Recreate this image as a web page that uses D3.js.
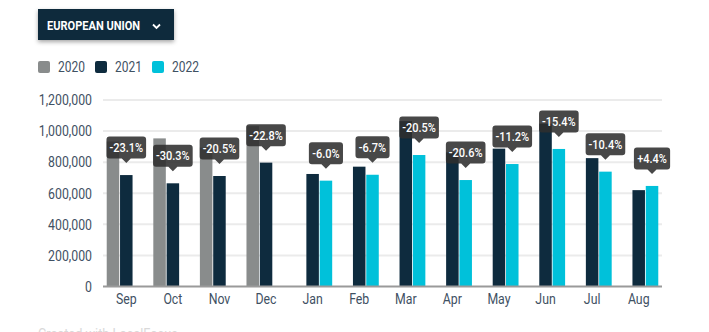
<!DOCTYPE html>
<html><head><meta charset="utf-8">
<script src="https://cdn.jsdelivr.net/npm/d3@7"></script>
<style>
html,body{margin:0;padding:0;background:#fff;overflow:hidden}
svg{display:block;font-family:Roboto,"Noto Sans",sans-serif}
</style></head>
<body>
<script>
const months = ['Sep','Oct','Nov','Dec','Jan','Feb','Mar','Apr','May','Jun','Jul','Aug'];
const seriesNames = ['2020','2021','2022'];
const v2020 = [933000, 953000, 894000, 1032000, null, null, null, null, null, null, null, null];
const v2021 = [717000, 664000, 711000, 797000, 724000, 771000, 1064000, 863000, 887000, 1048000, 826000, 620000];
const v2022 = [null, null, null, null, 681000, 719000, 846000, 685000, 788000, 885000, 739000, 647000];
const changes = ['-23.1%','-30.3%','-20.5%','-22.8%','-6.0%','-6.7%','-20.5%','-20.6%','-11.2%','-15.4%','-10.4%','+4.4%'];
const yTicks = [0, 200000, 400000, 600000, 800000, 1000000, 1200000];
const colors = {'2020':'#898c8c','2021':'#0e2b3e','2022':'#00c1da'};

const W = 709, H = 332;
const svg = d3.select('body').append('svg').attr('width', W).attr('height', H);
const textColor = '#3f5163';

function condense(sel, f){
  sel.each(function(){
    const w = this.getComputedTextLength();
    this.setAttribute('textLength', (w*f).toFixed(2));
    this.setAttribute('lengthAdjust','spacingAndGlyphs');
  });
}

// dropdown
const dd = svg.append('g').style('filter','drop-shadow(0px 2px 2px rgba(0,0,0,0.35))');
dd.append('rect').attr('x',38).attr('y',9).attr('width',136).attr('height',31).attr('fill','#0e2a3c');
svg.append('text').attr('x',47).attr('y',30).attr('fill','#fff').attr('font-size',12).attr('font-weight',700)
  .text('EUROPEAN UNION').call(condense, 0.92);
svg.append('path').attr('d','M153,24.5 L156.5,28 L160,24.5').attr('fill','none').attr('stroke','#fff').attr('stroke-width',1.8);

// legend
const legX = [38, 95, 152];
const leg = svg.append('g').selectAll('g').data(seriesNames).join('g')
  .attr('transform',(d,i)=>`translate(${legX[i]},61)`);
leg.append('rect').attr('width',12).attr('height',12).attr('rx',2).attr('fill',d=>colors[d]);
leg.append('text').attr('x',20).attr('y',11).attr('font-size',15).attr('fill',textColor).text(d=>d).call(condense,0.8);

// scales
const y = d3.scaleLinear().domain([0,1200000]).range([286.5,100]);
const x0 = d3.scaleBand().domain(months).range([103,662]).paddingInner(0.16).paddingOuter(0.08);
const x1 = d3.scaleBand().domain(seriesNames).range([0,x0.bandwidth()]).paddingInner(0.06);

// grid
svg.append('g').selectAll('line').data(yTicks.filter(d=>d>0)).join('line')
  .attr('x1',103).attr('x2',662).attr('y1',d=>y(d)).attr('y2',d=>y(d))
  .attr('stroke','#ebebeb').attr('stroke-width',2);

// y axis labels
const yAxis = svg.append('g').attr('transform','translate(92,0)')
  .call(d3.axisLeft(y).tickValues(yTicks).tickSize(0).tickPadding(0).tickFormat(d3.format(',')));
yAxis.select('.domain').remove();
yAxis.selectAll('text').attr('font-size',15).attr('fill',textColor).attr('font-family','Roboto').call(condense,0.82);

// bars
const rows = months.map((m,i)=>({m, vals:{'2020':v2020[i],'2021':v2021[i],'2022':v2022[i]}, change:changes[i]}));
const groups = svg.append('g').selectAll('g').data(rows).join('g').attr('transform',d=>`translate(${x0(d.m)},0)`);
groups.selectAll('rect').data(d=>seriesNames.filter(s=>d.vals[s]!=null).map(s=>({s,v:d.vals[s]}))).join('rect')
  .attr('x',d=>x1(d.s)).attr('width',x1.bandwidth()).attr('y',d=>y(d.v)).attr('height',d=>y(0)-y(d.v))
  .attr('fill',d=>colors[d.s]);

// baseline
svg.append('line').attr('x1',103).attr('x2',662).attr('y1',y(0)).attr('y2',y(0)).attr('stroke','#9a9a9a').attr('stroke-width',2);

// x axis labels
const xAxis = svg.append('g').attr('transform',`translate(0,${y(0)})`)
  .call(d3.axisBottom(x0).tickSize(0).tickPadding(7));
xAxis.select('.domain').remove();
xAxis.selectAll('text').attr('font-size',15).attr('fill',textColor).attr('font-family','Roboto').call(condense,0.82);

// change labels
const lab = svg.append('g').selectAll('g').data(rows).join('g')
  .attr('transform',d=>{
    const s = d.vals['2022']!=null ? '2022' : '2021';
    const cx = x0(d.m)+x1(s)+x1.bandwidth()/2;
    const ty = y(d.vals[s]) - 12;
    return `translate(${cx},${ty})`;
  });
lab.each(function(d){
  const g = d3.select(this);
  const bg = g.append('path');
  const t = g.append('text').attr('text-anchor','middle').attr('y',-11).attr('fill','#fff')
    .attr('font-size',12.5).attr('font-weight',500).text(d.change).call(condense,0.88);
  const tw = t.node().getComputedTextLength()*0.88;
  const w = tw + 10, h = 22, r = 3, hb = -4.5;
  const l = -w/2, rgt = w/2, top = hb - h;
  bg.attr('d',`M${l+r},${top} H${rgt-r} Q${rgt},${top} ${rgt},${top+r} V${hb-r} Q${rgt},${hb} ${rgt-r},${hb} H4.5 L0,0 L-4.5,${hb} H${l+r} Q${l},${hb} ${l},${hb-r} V${top+r} Q${l},${top} ${l+r},${top} Z`)
    .attr('fill','#2f2f2f').attr('fill-opacity',0.88);
});

// footer
svg.append('text').attr('x',38).attr('y',339).attr('font-size',15).attr('fill','#d9d9d9').text('Created with LocalFocus').call(condense,0.85);
</script>
</body></html>
